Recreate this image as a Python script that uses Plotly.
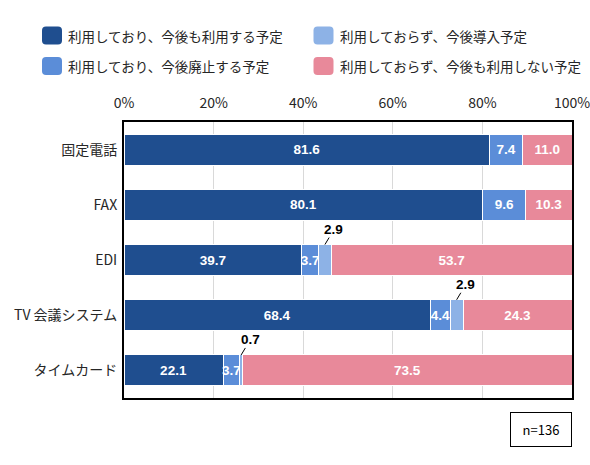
import plotly.graph_objects as go

categories = ["固定電話", "FAX", "EDI", "TV 会議システム", "タイムカード"]
series_names = [
    "利用しており、今後も利用する予定",
    "利用しており、今後廃止する予定",
    "利用しておらず、今後導入予定",
    "利用しておらず、今後も利用しない予定",
]
continue_use = [81.6, 80.1, 39.7, 68.4, 22.1]
abolish = [7.4, 9.6, 3.7, 4.4, 3.7]
introduce = [0.0, 0.0, 2.9, 2.9, 0.7]
not_use = [11.0, 10.3, 53.7, 24.3, 73.5]
x_ticks = [0, 20, 40, 60, 80, 100]
sample_note = "n=136"

series_values = [continue_use, abolish, introduce, not_use]
colors = ["#1F4E8F", "#5B8DD8", "#8DB2E6", "#E8899A"]

# plot area in pixels (590x465 canvas)
L, R, T, B = 124, 18, 122, 67
PW = 590 - L - R
PH = 465 - T - B

def px_x(p):
    return (p - L) / PW

def px_y(p):
    return (465 - B - p) / PH

fig = go.Figure()
BAR_W = 0.56
for name, vals, col in zip(series_names, series_values, colors):
    labels = [f"{v:.1f}" if v >= 3 else "" for v in vals]
    fig.add_trace(go.Bar(
        y=categories, x=vals, name=name, orientation="h",
        marker=dict(color=col, line=dict(color="white", width=1)),
        text=labels, textposition="inside", insidetextanchor="middle",
        constraintext="none", textangle=0,
        textfont=dict(family="Liberation Sans", size=13.5, color="white", weight="bold"),
        showlegend=False, width=BAR_W, hoverinfo="skip",
    ))

# leader-line labels for small "introduce" values
for i, cat in enumerate(categories):
    v = introduce[i]
    if 0 < v < 3:
        start = continue_use[i] + abolish[i]
        fig.add_annotation(
            x=start + v / 2, y=i - BAR_W / 2, xref="x", yref="y",
            text=f"<b>{v:.1f}</b>", showarrow=True, arrowhead=0,
            arrowwidth=1, arrowcolor="black", ax=9, ay=-15,
            font=dict(family="Liberation Sans", size=13.5, color="black"),
            borderpad=0,
        )

# custom legend (two columns, column-major)
legend_pos = [
    (52, 35.5),   # continue_use
    (52, 66),     # abolish
    (323.5, 35.5),  # introduce
    (323.5, 66),    # not_use
]
mw, mh, r = 20, 18, 4
path = (f"M{-mw/2+r},{-mh/2} L{mw/2-r},{-mh/2} Q{mw/2},{-mh/2} {mw/2},{-mh/2+r} "
        f"L{mw/2},{mh/2-r} Q{mw/2},{mh/2} {mw/2-r},{mh/2} L{-mw/2+r},{mh/2} "
        f"Q{-mw/2},{mh/2} {-mw/2},{mh/2-r} L{-mw/2},{-mh/2+r} Q{-mw/2},{-mh/2} {-mw/2+r},{-mh/2} Z")
for name, col, (cx, cy) in zip(series_names, colors, legend_pos):
    fig.add_shape(type="path", xref="paper", yref="paper",
                  xsizemode="pixel", ysizemode="pixel",
                  xanchor=px_x(cx), yanchor=px_y(cy), path=path,
                  fillcolor=col, line=dict(width=0))
    fig.add_annotation(x=px_x(cx + 14), y=px_y(cy), xref="paper", yref="paper",
                       text=name, showarrow=False, xanchor="left", yanchor="middle",
                       font=dict(family="Noto Sans CJK JP", size=13.5, color="#262626"))

# sample size box
fig.add_annotation(x=1, y=px_y(429.5), xref="paper", yref="paper",
                   text=sample_note, showarrow=False, xanchor="right", yanchor="middle",
                   width=60, height=33, borderpad=0, bordercolor="black", borderwidth=1,
                   font=dict(family="Noto Sans CJK JP", size=13, color="black"))

fig.update_layout(
    barmode="stack",
    width=590, height=465,
    margin=dict(l=L, r=R, t=T, b=B, autoexpand=False),
    paper_bgcolor="white", plot_bgcolor="white",
    font=dict(family="Noto Sans CJK JP", size=14, color="#262626"),
    bargap=0.44,
)
fig.update_xaxes(
    side="top", range=[0, 100], tickvals=x_ticks,
    ticktext=[f"{t}%" for t in x_ticks],
    showgrid=True, gridcolor="#D9D9D9", gridwidth=1,
    showline=True, linecolor="black", linewidth=2, mirror=True,
    zeroline=False, ticks="outside", ticklen=6, tickcolor="rgba(0,0,0,0)",
    ticklabeloverflow="allow", automargin=False,
    tickfont=dict(size=14, color="#262626"),
)
fig.update_yaxes(
    range=[4.5, -0.5], categoryorder="array", categoryarray=categories,
    showline=True, linecolor="black", linewidth=2, mirror=True,
    showgrid=False, ticks="outside", ticklen=2, tickcolor="rgba(0,0,0,0)",
    automargin=False,
    tickfont=dict(size=14, color="#262626"),
)

fig.write_html("out.html", config={"displayModeBar": False},
               post_script="document.body.style.margin='0';")
